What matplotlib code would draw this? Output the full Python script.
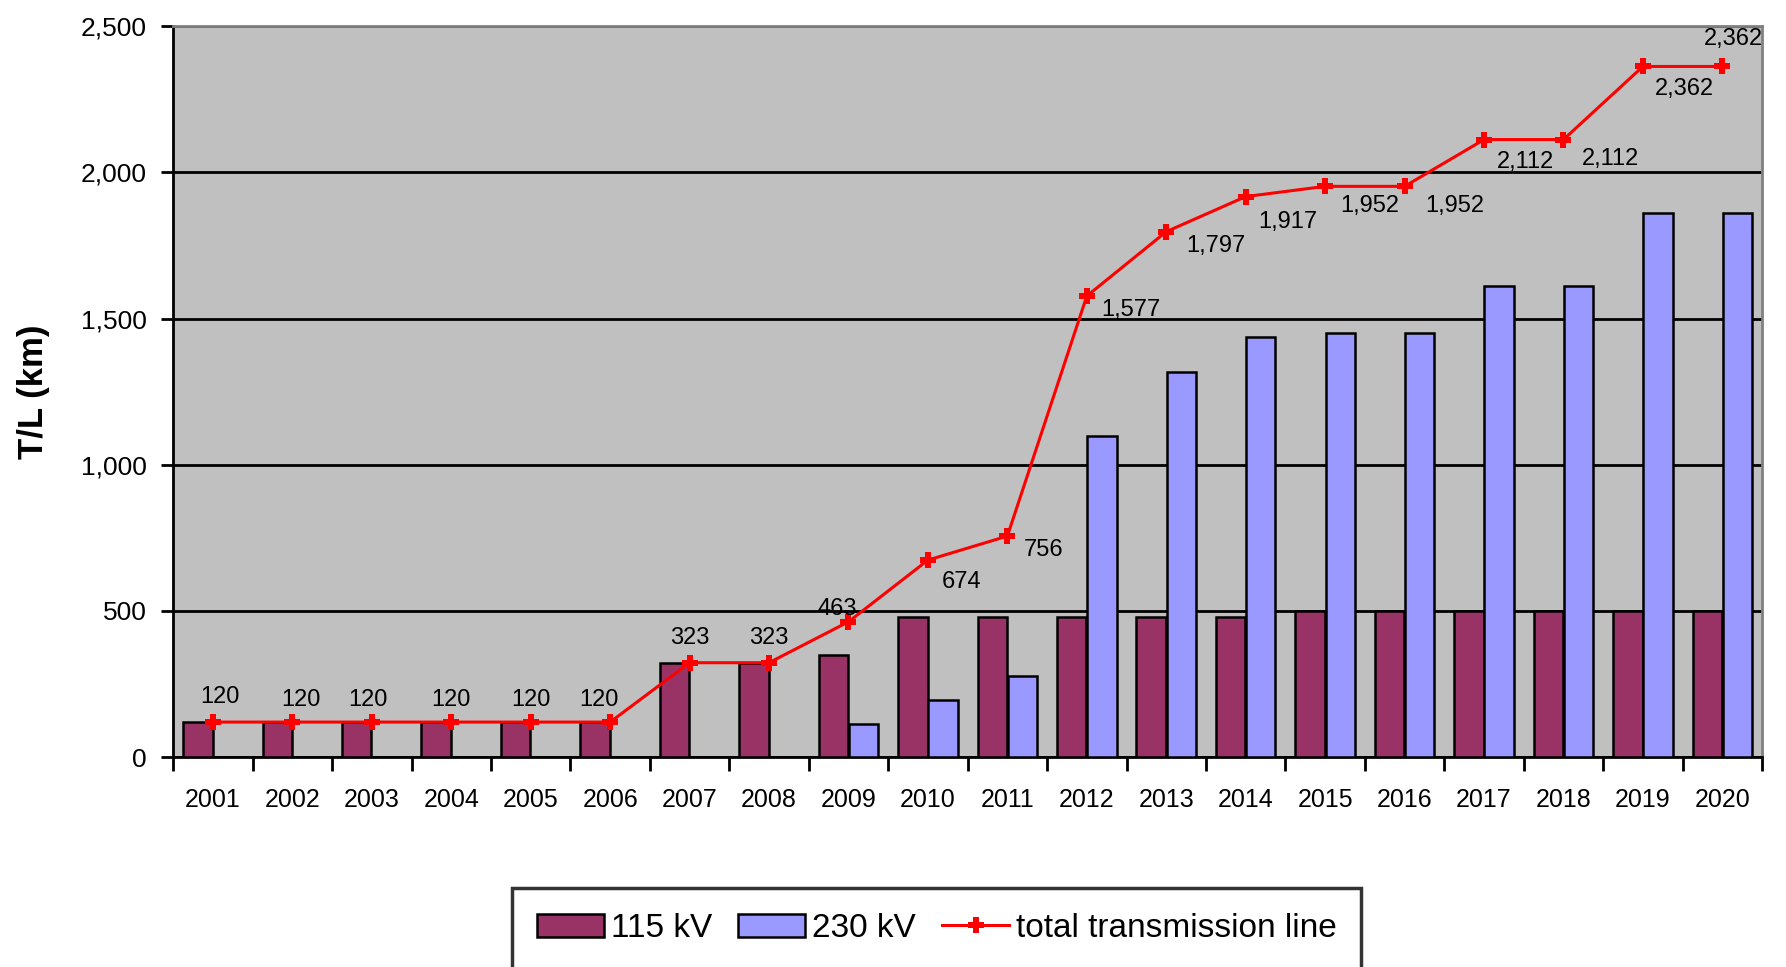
import numpy as np
import matplotlib.pyplot as plt
from matplotlib.ticker import FuncFormatter

years = [str(y) for y in range(2001, 2021)]
kv115 = [120, 120, 120, 120, 120, 120, 323, 323, 350, 480, 480, 480, 480, 480, 500, 500, 500, 500, 500, 500]
kv230 = [0, 0, 0, 0, 0, 0, 0, 0, 113, 194, 276, 1097, 1317, 1437, 1452, 1452, 1612, 1612, 1862, 1862]
total = [120, 120, 120, 120, 120, 120, 323, 323, 463, 674, 756, 1577, 1797, 1917, 1952, 1952, 2112, 2112, 2362, 2362]

# label offsets in points (x, y) for the total line
offs = [(5, 18), (6, 16), (-3, 16), (0, 16), (0, 16), (-8, 16),
        (0, 18), (0, 18), (-8, 9), (24, -16), (26, -10), (32, -10),
        (36, -10), (30, -18), (32, -14), (36, -14), (30, -16), (34, -14),
        (30, -16), (8, 20)]

plt.rcParams['font.family'] = ['Liberation Sans', 'DejaVu Sans']

fig = plt.figure(figsize=(17.86, 9.67), dpi=100)
ax = fig.add_axes([0.097, 0.217, 0.8896, 0.756])
ax.set_facecolor('#C0C0C0')

x = np.arange(len(years))
w = 0.37
b1 = ax.bar(x - 0.19, kv115, w, color='#993366', edgecolor='black', linewidth=1.8, label='115 kV', zorder=3)
b2 = ax.bar(x + 0.19, kv230, w, color='#9999FF', edgecolor='black', linewidth=1.8, label='230 kV', zorder=3)
ln, = ax.plot(x, total, color='red', lw=2.2, marker='P', markersize=11, markeredgewidth=0,
              label='total transmission line', zorder=4)

for xi, v, o in zip(x, total, offs):
    ax.annotate(f'{v:,}', (xi, v), xytext=o, textcoords='offset points',
                ha='center', va='center', fontsize=17, zorder=5)

ax.set_ylim(0, 2500)
ax.set_xlim(-0.5, len(years) - 0.5)
ax.set_yticks([0, 500, 1000, 1500, 2000, 2500])
ax.yaxis.set_major_formatter(FuncFormatter(lambda v, p: f'{int(v):,}'))
ax.yaxis.grid(True, color='black', lw=2)
ax.set_axisbelow(True)

ax.set_xticks(np.arange(-0.5, len(years)), minor=False)
ax.set_xticklabels([])
ax.set_xticks(x, minor=True)
ax.set_xticklabels(years, minor=True, fontsize=18)
ax.tick_params(axis='x', which='major', length=10, width=2, direction='out')
ax.tick_params(axis='x', which='minor', length=0, pad=22)
ax.tick_params(axis='y', length=9, width=2, labelsize=19, pad=10)

for s in ['left', 'bottom']:
    ax.spines[s].set_linewidth(2)
    ax.spines[s].set_color('black')
for s in ['top', 'right']:
    ax.spines[s].set_linewidth(2)
    ax.spines[s].set_color('#808080')

ax.set_ylabel('T/L (km)', fontsize=25, fontweight='bold', labelpad=22)

leg = fig.legend([b1, b2, ln], ['115 kV', '230 kV', 'total transmission line'],
                 loc='upper center', bbox_to_anchor=(0.5245, 0.0817), ncol=3,
                 fontsize=24, frameon=True, fancybox=False, edgecolor='black',
                 borderpad=0.75, borderaxespad=0, handlelength=2.0,
                 handletextpad=0.2, columnspacing=0.8)
leg.get_frame().set_linewidth(2.5)

fig.savefig('out.png', dpi=100)
